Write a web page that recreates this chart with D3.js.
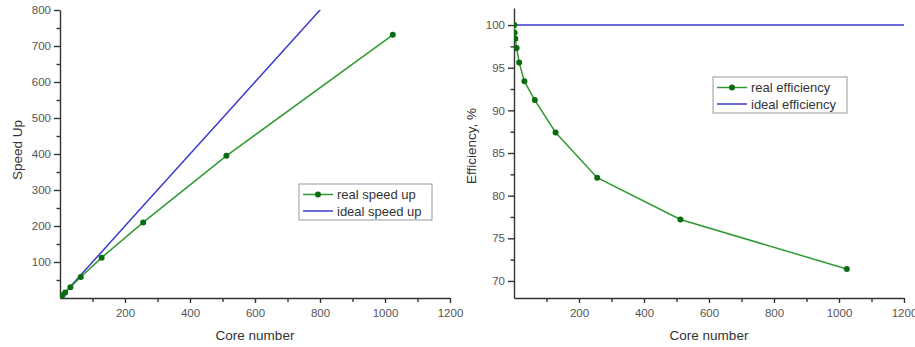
<!DOCTYPE html>
<html>
<head>
<meta charset="utf-8">
<script src="https://cdn.jsdelivr.net/npm/d3@7"></script>
<style>
  body { margin: 0; background: #fff; }
  text { font-family: "Liberation Sans", Arial, sans-serif; }
  .tick text { fill: #555; font-size: 11.5px; }
  .domain, .tick line { stroke: #333; stroke-width: 1.4; }
  .title { fill: #333; font-size: 13.5px; }
  .legend text { fill: #333; font-size: 13px; }
</style>
</head>
<body>
<script>
// data
var cores      = [1, 2, 4, 8, 16, 32, 64, 128, 256, 512, 1024];
var realSpeed  = [1, 1.98, 3.94, 7.8, 15.3, 29.9, 58.4, 112, 210, 395, 731];
var idealSpeed = [1, 2, 4, 8, 16, 32, 64, 128, 256, 512, 1024];
var realEff    = [100, 99.1, 98.4, 97.3, 95.6, 93.4, 91.2, 87.4, 82.1, 77.2, 71.4];
var idealEffX  = [1, 1200];
var idealEff   = [100, 100];

var xTicks     = [200, 400, 600, 800, 1000, 1200];
var speedTicks = [100, 200, 300, 400, 500, 600, 700, 800];
var effTicks   = [70, 75, 80, 85, 90, 95, 100];

var green = "#2f9a2f", dark = "#0b6b12", blue = "#3a3ad0";

var svg = d3.select("body").append("svg")
    .attr("width", 915)
    .attr("height", 347);

function panel(opt) {
  var x = d3.scaleLinear().domain([0, 1200]).range([opt.left, opt.left + 390]);
  var y = d3.scaleLinear().domain(opt.yDomain).range([298, opt.top]);
  var g = svg.append("g");

  // clip so the ideal line stops at the top of the plot
  var clipId = "clip" + opt.id;
  svg.append("clipPath").attr("id", clipId)
    .append("rect")
      .attr("x", opt.left).attr("y", opt.top)
      .attr("width", 400).attr("height", 298 - opt.top);

  // minor ticks first, then main axes on top
  g.append("g")
      .attr("transform", "translate(0,298)")
      .call(d3.axisBottom(x).tickValues(d3.range(100, 1201, 200)).tickSize(4).tickFormat(""))
      .call(function(a){ a.select(".domain").remove(); });
  g.append("g")
      .attr("transform", "translate(" + opt.left + ",0)")
      .call(d3.axisLeft(y).tickValues(opt.minor).tickSize(3.5).tickFormat(""))
      .call(function(a){ a.select(".domain").remove(); });

  g.append("g")
      .attr("transform", "translate(0,298)")
      .call(d3.axisBottom(x).tickValues(xTicks).tickFormat(d3.format("d"))
            .tickSize(5).tickSizeOuter(0).tickPadding(6));
  g.append("g")
      .attr("transform", "translate(" + opt.left + ",0)")
      .call(d3.axisLeft(y).tickValues(opt.ticks).tickFormat(d3.format("d"))
            .tickSize(6).tickSizeOuter(0).tickPadding(3));

  g.append("text").attr("class", "title")
      .attr("x", opt.left + 195).attr("y", 340)
      .attr("text-anchor", "middle")
      .text("Core number");
  g.append("text").attr("class", "title")
      .attr("transform", "translate(" + (opt.left - 38) + "," + opt.yTitleY + ") rotate(-90)")
      .attr("text-anchor", "middle")
      .text(opt.yTitle);

  var line = d3.line()
      .x(function(d) { return x(d[0]); })
      .y(function(d) { return y(d[1]); });

  var plot = g.append("g").attr("clip-path", "url(#" + clipId + ")");

  plot.append("path")
      .datum(d3.zip(opt.idealX, opt.ideal))
      .attr("fill", "none").attr("stroke", blue).attr("stroke-width", 1.5)
      .attr("d", line);

  var realPts = d3.zip(cores, opt.real);
  plot.append("path")
      .datum(realPts)
      .attr("fill", "none").attr("stroke", green).attr("stroke-width", 1.5)
      .attr("d", line);
  plot.selectAll(".dot")
      .data(realPts)
    .enter().append("circle")
      .attr("class", "dot")
      .attr("cx", function(d) { return x(d[0]); })
      .attr("cy", function(d) { return y(d[1]); })
      .attr("r", 3)
      .attr("fill", dark);

  // legend
  var lg = g.append("g").attr("class", "legend")
      .attr("transform", "translate(" + opt.legend[0] + "," + opt.legend[1] + ")");
  lg.append("rect")
      .attr("width", opt.legend[2]).attr("height", 36)
      .attr("fill", "#fff").attr("stroke", "#999").attr("stroke-width", 1);
  lg.append("line").attr("x1", 4).attr("x2", 34).attr("y1", 10.5).attr("y2", 10.5)
      .attr("stroke", green).attr("stroke-width", 1.5);
  lg.append("circle").attr("cx", 19).attr("cy", 10.5).attr("r", 3).attr("fill", dark);
  lg.append("line").attr("x1", 4).attr("x2", 34).attr("y1", 27).attr("y2", 27)
      .attr("stroke", blue).attr("stroke-width", 1.5);
  lg.append("text").attr("x", 38).attr("y", 15).text(opt.names[0]);
  lg.append("text").attr("x", 38).attr("y", 31.5).text(opt.names[1]);
}

panel({
  id: "a", left: 60, top: 10,
  yDomain: [0, 800], ticks: speedTicks, minor: d3.range(50, 800, 100),
  yTitle: "Speed Up", yTitleY: 150,
  idealX: cores, ideal: idealSpeed, real: realSpeed,
  legend: [299, 184, 133], names: ["real speed up", "ideal speed up"]
});

panel({
  id: "b", left: 514, top: 8,
  yDomain: [68, 102], ticks: effTicks, minor: d3.range(72.5, 100, 5),
  yTitle: "Efficiency, %", yTitleY: 146,
  idealX: idealEffX, ideal: idealEff, real: realEff,
  legend: [713, 77, 134], names: ["real efficiency", "ideal efficiency"]
});
</script>
</body>
</html>
